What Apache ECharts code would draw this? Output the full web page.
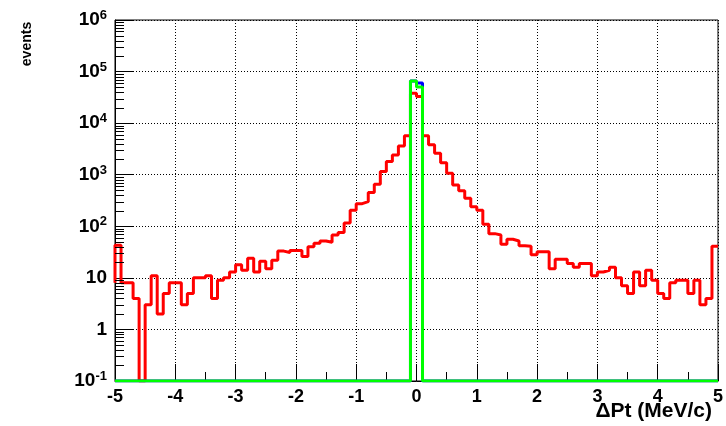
<!DOCTYPE html>
<html>
<head>
<meta charset="utf-8">
<script src="https://cdn.jsdelivr.net/npm/echarts@6/dist/echarts.min.js"></script>
<style>
  html, body { margin: 0; padding: 0; background: #fff; }
  #chart { width: 726px; height: 426px; }
</style>
</head>
<body>
<div id="chart"></div>
<script>
// ΔPt distributions: 100 bins of 0.1 MeV/c from -5 to 5
const binLow = -5;
const binWidth = 0.1;
const binCount = 100;

// all tracks (red)
const redCounts = [
  43, 8, 8, 4, 0, 3, 11, 2, 5, 8,
  8, 3, 5, 10, 10, 11, 4, 9, 10, 13,
  18, 14, 24, 13, 21, 15, 22, 33, 31, 34,
  34, 26, 40, 47, 52, 49, 68, 76, 116, 205,
  275, 300, 450, 650, 1150, 1800, 2400, 3600, 5700, 38000,
  33000, 5700, 3800, 2600, 1700, 1070, 630, 490, 350, 240,
  205, 110, 72, 68, 45, 56, 52, 42, 41, 28,
  32, 32, 15, 23, 23, 19, 16, 19, 19, 11,
  13, 14, 16, 10, 7, 5, 13, 7, 14, 9,
  5, 4, 8, 9, 9, 5, 9, 3, 4, 41
];
// selected tracks: only the two central bins are filled
const blueBins = [49, 50];
const blueCounts = [66000, 60000];
const greenBins = [49, 50];
const greenCounts = [66000, 50000];

const xTicks = [-5, -4, -3, -2, -1, 0, 1, 2, 3, 4, 5];
const yMin = 0.1, yMax = 1e6;
const yMinorFactors = [2, 3, 4, 5, 6, 7, 8, 9];

const FONT = '"Liberation Sans", Arial, Helvetica, sans-serif';

function fillBins(bins, counts) {
  const arr = new Array(binCount).fill(0);
  bins.forEach((b, i) => { arr[b] = counts[i]; });
  return arr;
}

// empty bins sit on the bottom of the log frame
function shown(v) { return v > 0 ? v : yMin; }

// histogram outline as a step polyline through the bin edges
function outline(counts) {
  const pts = [[binLow, shown(counts[1])]];
  for (let i = 0; i < counts.length; i++) {
    const x0 = +(binLow + i * binWidth).toFixed(4);
    const x1 = +(binLow + (i + 1) * binWidth).toFixed(4);
    pts.push([x0, shown(counts[i])]);
    pts.push([x1, shown(counts[i])]);
  }
  return pts;
}

// log-axis minor tick positions (2..9 in each decade)
const yMinor = [];
for (let e = Math.round(Math.log10(yMin)); e < Math.round(Math.log10(yMax)); e++) {
  yMinorFactors.forEach(f => yMinor.push([binLow, f * Math.pow(10, e)]));
}

function histSeries(name, counts, color, z) {
  return {
    name: name,
    type: 'line',
    data: outline(counts),
    showSymbol: false,
    symbol: 'none',
    silent: true,
    animation: false,
    z: z,
    lineStyle: { color: color, width: 3 }
  };
}

const gridStyle = { color: '#000', width: 1, type: [1, 2] };
const tickStyle = { color: '#000', width: 1 };

const chart = echarts.init(document.getElementById('chart'), null, { renderer: 'canvas' });
chart.setOption({
  animation: false,
  backgroundColor: '#fff',
  grid: {
    left: 115, right: 6, top: 20, bottom: 45,
    show: true, borderColor: '#000', borderWidth: 1
  },
  xAxis: {
    type: 'value',
    min: xTicks[0], max: xTicks[xTicks.length - 1], interval: 1,
    axisLine: { show: true, onZero: false, lineStyle: tickStyle },
    axisTick: { show: true, inside: true, length: 17, lineStyle: tickStyle },
    minorTick: { show: true, splitNumber: 2, length: 9, lineStyle: tickStyle },
    splitLine: { show: true, lineStyle: gridStyle },
    axisLabel: {
      color: '#000', fontSize: 18, fontWeight: 'bold', fontFamily: FONT,
      margin: 7, showMinLabel: true, showMaxLabel: true
    }
  },
  yAxis: {
    type: 'log', logBase: 10, min: yMin, max: yMax,
    axisLine: { show: true, onZero: false, lineStyle: tickStyle },
    axisTick: { show: true, inside: true, length: 18, lineStyle: tickStyle },
    splitLine: { show: true, lineStyle: gridStyle },
    axisLabel: {
      margin: 8,
      showMinLabel: true, showMaxLabel: true,
      formatter: function (v) {
        const e = Math.round(Math.log10(v));
        if (e === 0) return '{m|1}';
        if (e === 1) return '{m|10}';
        return '{m|10}{s|' + e + '}';
      },
      rich: {
        m: { fontSize: 19, fontWeight: 'bold', fontFamily: FONT, color: '#000', lineHeight: 22 },
        s: { fontSize: 13, fontWeight: 'bold', fontFamily: FONT, color: '#000', lineHeight: 13, verticalAlign: 'top' }
      }
    }
  },
  series: [
    {
      type: 'custom',
      silent: true,
      clip: false,
      z: 10,
      data: yMinor,
      encode: { x: 0, y: 1 },
      renderItem: function (params, api) {
        const p = api.coord([api.value(0), api.value(1)]);
        const y = Math.round(p[1]) + 0.5;
        return {
          type: 'line',
          shape: { x1: p[0], y1: y, x2: p[0] + 9, y2: y },
          style: { stroke: '#000', lineWidth: 1 }
        };
      }
    },
    histSeries('all', redCounts, '#ff0000', 3),
    histSeries('selected A', fillBins(blueBins, blueCounts), '#0000ff', 4),
    histSeries('selected B', fillBins(greenBins, greenCounts), '#00ff00', 5)
  ],
  graphic: [
    {
      type: 'text', x: 27, y: 44, rotation: Math.PI / 2,
      style: { text: 'events', font: 'bold 14px ' + FONT, fill: '#000', align: 'center', verticalAlign: 'middle' }
    },
    {
      type: 'text', x: 712, y: 411,
      style: { text: 'ΔPt (MeV/c)', font: 'bold 21px ' + FONT, fill: '#000', align: 'right', verticalAlign: 'middle' }
    }
  ]
});
</script>
</body>
</html>
